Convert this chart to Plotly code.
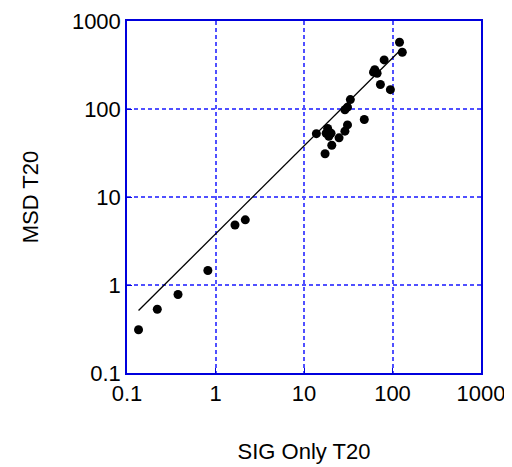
import plotly.graph_objects as go

# Data (SIG Only T20 vs MSD T20)
sig_only_t20 = [0.135, 0.22, 0.377, 0.82, 1.66, 2.17,
                13.8, 17.3, 17.8, 18.5, 19.1, 20.2, 20.6, 24.9,
                29, 29, 31, 31, 33.4, 48,
                61, 63, 67, 73, 80.5, 94.6, 120, 129]
msd_t20 = [0.31, 0.53, 0.78, 1.46, 4.8, 5.5,
           52.5, 31, 53, 60, 49, 53, 38.7, 47,
           56, 98, 66, 105, 128, 76,
           262, 279, 255, 190, 361, 166, 573, 441]

# Fitted line (y = coef * x), drawn over the fit range
fit_coef = 3.8
fit_range = [0.135, 120]

axis_ticks = [0.1, 1, 10, 100, 1000]
axis_tick_text = ["0.1", "1", "10", "100", "1000"]

fit_y = [fit_coef * v for v in fit_range]

FONT = "Liberation Sans, Arial, sans-serif"

fig = go.Figure()
fig.add_trace(go.Scatter(x=fit_range, y=fit_y, mode="lines",
                         line=dict(color="black", width=1.3),
                         showlegend=False, hoverinfo="skip"))
fig.add_trace(go.Scatter(x=sig_only_t20, y=msd_t20, mode="markers",
                         marker=dict(color="black", size=9),
                         showlegend=False))

axis_common = dict(
    type="log",
    tickvals=axis_ticks,
    ticktext=axis_tick_text,
    showgrid=True,
    gridcolor="#5050ff",
    griddash="4px,3px",
    gridwidth=1.6,
    showline=True,
    linecolor="#0000dd",
    linewidth=1.5,
    mirror=True,
    ticks="inside",
    ticklen=5,
    tickcolor="#0000dd",
    zeroline=False,
    automargin=False,
    tickfont=dict(family=FONT, size=22, color="black"),
)

fig.update_xaxes(range=[-1, 3],
                 title=dict(text="SIG Only T20",
                            font=dict(family=FONT, size=22, color="black"),
                            standoff=38),
                 **axis_common)
fig.update_yaxes(range=[-1, 3],
                 title=dict(text="MSD T20",
                            font=dict(family=FONT, size=22, color="black"),
                            standoff=27),
                 **axis_common)

fig.update_layout(
    width=512, height=467,
    margin=dict(l=119, r=39, t=13, b=102),
    plot_bgcolor="white",
    paper_bgcolor="white",
)

fig.write_html("out.html")
